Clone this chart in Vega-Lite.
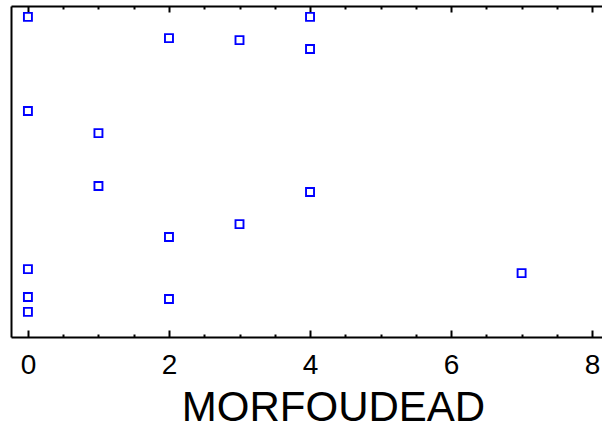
{
  "$schema": "https://vega.github.io/schema/vega-lite/v6.json",
  "autosize": "none",
  "width": 591,
  "height": 331,
  "padding": {"left": 11, "top": 6, "right": 0, "bottom": 95},
  "background": "white",
  "config": {
    "view": {"stroke": null},
    "axis": {
      "grid": false,
      "domainColor": "black",
      "domainWidth": 2,
      "tickColor": "black",
      "tickWidth": 2,
      "labelFont": "Liberation Sans",
      "titleFont": "Liberation Sans",
      "labelColor": "black",
      "titleColor": "black"
    }
  },
  "data": {
    "values": [
      {"MORFOUDEAD": 0, "Y": 96.7},
      {"MORFOUDEAD": 4, "Y": 96.7},
      {"MORFOUDEAD": 2, "Y": 90.3},
      {"MORFOUDEAD": 3, "Y": 89.7},
      {"MORFOUDEAD": 4, "Y": 87.0},
      {"MORFOUDEAD": 0, "Y": 68.3},
      {"MORFOUDEAD": 1, "Y": 61.6},
      {"MORFOUDEAD": 1, "Y": 45.6},
      {"MORFOUDEAD": 4, "Y": 43.8},
      {"MORFOUDEAD": 3, "Y": 34.1},
      {"MORFOUDEAD": 2, "Y": 30.2},
      {"MORFOUDEAD": 0, "Y": 20.5},
      {"MORFOUDEAD": 7, "Y": 19.3},
      {"MORFOUDEAD": 0, "Y": 12.1},
      {"MORFOUDEAD": 2, "Y": 11.5},
      {"MORFOUDEAD": 0, "Y": 7.6}
    ]
  },
  "layer": [
    {
      "mark": {"type": "point", "opacity": 0},
      "encoding": {
        "x": {
          "field": "MORFOUDEAD", "type": "quantitative",
          "scale": {"domain": [-0.24, 8.14], "nice": false, "zero": false},
          "axis": {"orient": "bottom", "values": [0.5, 1, 1.5, 2.5, 3, 3.5, 4.5, 5, 5.5, 6.5, 7, 7.5], "tickSize": -3, "labels": false, "title": null, "domain": false, "offset": 0}
        },
        "y": {"field": "Y", "type": "quantitative", "scale": {"domain": [0, 100], "nice": false}}
      }
    },
    {
      "mark": {"type": "point", "opacity": 0},
      "encoding": {
        "x": {
          "field": "MORFOUDEAD", "type": "quantitative",
          "axis": {"orient": "top", "values": [0.5, 1, 1.5, 2.5, 3, 3.5, 4.5, 5, 5.5, 6.5, 7, 7.5], "tickSize": -3, "labels": false, "title": null, "domain": false, "offset": 0}
        },
        "y": {"field": "Y", "type": "quantitative"}
      }
    },
    {
      "mark": {"type": "point", "opacity": 0},
      "encoding": {
        "x": {
          "field": "MORFOUDEAD", "type": "quantitative",
          "axis": {"orient": "top", "values": [0, 2, 4, 6, 8], "tickSize": -6, "labels": false, "title": null, "offset": 0}
        },
        "y": {"field": "Y", "type": "quantitative"}
      }
    },
    {
      "mark": {"type": "point", "shape": "square", "filled": false, "color": "#0000ff", "size": 64, "strokeWidth": 1.9, "opacity": 1},
      "encoding": {
        "x": {
          "field": "MORFOUDEAD", "type": "quantitative",
          "axis": {
            "orient": "bottom", "values": [0, 2, 4, 6, 8], "tickSize": -7, "offset": 0,
            "labelFontSize": 28, "labelPadding": 21, "labelFlush": false,
            "title": "MORFOUDEAD", "titleFontSize": 42, "titleFontWeight": "normal",
            "titlePadding": 8, "titleX": 322, "titleAlign": "center"
          }
        },
        "y": {
          "field": "Y", "type": "quantitative",
          "axis": {"orient": "left", "ticks": false, "labels": false, "title": null, "domain": true}
        }
      }
    }
  ],
  "resolve": {"axis": {"x": "independent"}}
}
